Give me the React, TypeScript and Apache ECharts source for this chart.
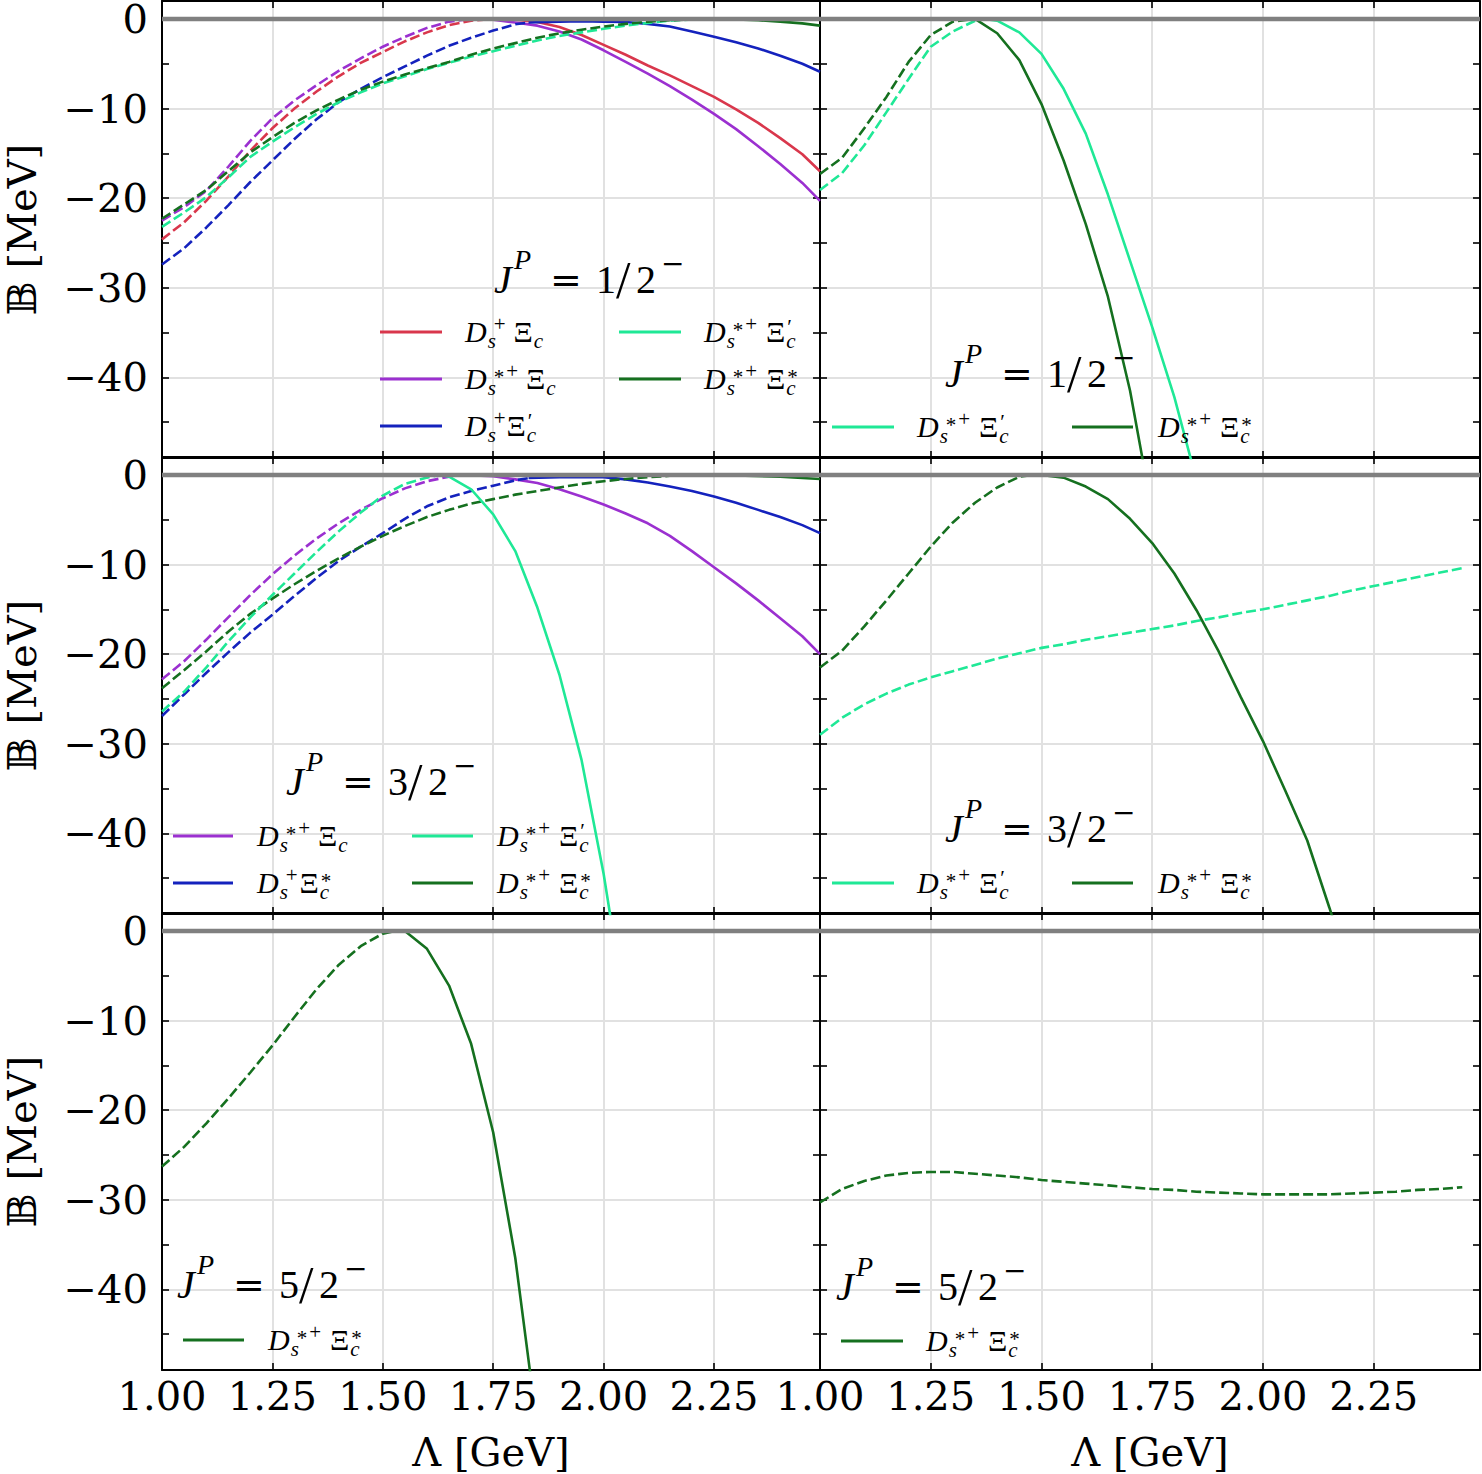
import React, { useEffect, useRef } from 'react';
import * as echarts from 'echarts';

type Pt = [number, number];

// ---------- axis values ----------
const X_MIN = 1.0;
const X_MAX = 2.49;
const X_STEP = 0.25;
const Y_MIN = -49;
const Y_MAX = 2;
const Y_LABEL_VALUES = [0, -10, -20, -30, -40];
const Y_TICK_VALUES = [0, -5, -10, -15, -20, -25, -30, -35, -40, -45];
const Y_GRID_VALUES = [-10, -20, -30, -40];
const ZERO_LINE: Pt[] = [[X_MIN, 0], [X_MAX, 0]];

// ---------- top-left : J^P = 1/2^- ----------
const tlRedDash: Pt[] = [[1.0,-24.6],[1.05,-22.7],[1.1,-20.3],[1.15,-17.6],[1.2,-14.7],[1.25,-12.2],[1.3,-10.0],[1.35,-8.1],[1.4,-6.4],[1.45,-4.9],[1.5,-3.7],[1.55,-2.5],[1.6,-1.5],[1.65,-0.7],[1.7,-0.2],[1.75,0]];
const tlRedSolid: Pt[] = [[1.75,0],[1.8,-0.1],[1.85,-0.35],[1.9,-0.9],[1.95,-1.8],[2.0,-2.9],[2.05,-4.0],[2.1,-5.2],[2.15,-6.3],[2.2,-7.5],[2.25,-8.7],[2.3,-10.1],[2.35,-11.6],[2.4,-13.3],[2.45,-15.1],[2.49,-17.0]];
const tlPurpleDash: Pt[] = [[1.0,-22.5],[1.05,-21.0],[1.1,-19.2],[1.15,-16.5],[1.2,-13.6],[1.25,-11.1],[1.3,-9.1],[1.35,-7.4],[1.4,-5.8],[1.45,-4.4],[1.5,-3.1],[1.55,-2.0],[1.6,-1.0],[1.65,-0.3],[1.7,0]];
const tlPurpleSolid: Pt[] = [[1.7,0],[1.75,-0.1],[1.8,-0.4],[1.85,-0.75],[1.9,-1.4],[1.95,-2.3],[2.0,-3.5],[2.05,-4.8],[2.1,-6.1],[2.15,-7.5],[2.2,-9.0],[2.25,-10.6],[2.3,-12.3],[2.35,-14.2],[2.4,-16.2],[2.45,-18.3],[2.49,-20.3]];
const tlBlueDash: Pt[] = [[1.0,-27.4],[1.05,-25.6],[1.1,-23.3],[1.15,-20.8],[1.2,-18.2],[1.25,-15.8],[1.3,-13.4],[1.35,-11.2],[1.4,-9.3],[1.45,-7.8],[1.5,-6.5],[1.55,-5.3],[1.6,-4.1],[1.65,-3.0],[1.7,-2.1],[1.75,-1.3],[1.8,-0.6],[1.83,-0.4]];
const tlBlueSolid: Pt[] = [[1.83,-0.4],[1.9,-0.3],[1.95,-0.25],[2.0,-0.3],[2.05,-0.35],[2.1,-0.55],[2.15,-0.85],[2.2,-1.4],[2.25,-2.0],[2.3,-2.6],[2.35,-3.3],[2.4,-4.1],[2.45,-5.0],[2.49,-5.9]];
const tlCyanDash: Pt[] = [[1.0,-23.2],[1.05,-21.6],[1.1,-19.9],[1.15,-17.7],[1.2,-15.4],[1.25,-13.7],[1.3,-12.1],[1.35,-10.6],[1.4,-9.3],[1.45,-8.2],[1.5,-7.2],[1.55,-6.4],[1.6,-5.6],[1.65,-4.9],[1.7,-4.2],[1.75,-3.6],[1.8,-3.0],[1.85,-2.4],[1.9,-1.9],[1.95,-1.5],[2.0,-1.1],[2.05,-0.75],[2.1,-0.45],[2.15,-0.2],[2.2,-0.05],[2.25,0]];
const tlCyanSolid: Pt[] = [[2.25,0],[2.49,0]];
const tlGreenDash: Pt[] = [[1.0,-22.3],[1.05,-20.7],[1.1,-19.1],[1.15,-17.0],[1.2,-14.9],[1.25,-13.2],[1.3,-11.6],[1.35,-10.2],[1.4,-9.0],[1.45,-7.9],[1.5,-7.0],[1.55,-6.2],[1.6,-5.5],[1.65,-4.8],[1.7,-4.0],[1.75,-3.3],[1.8,-2.7],[1.85,-2.1],[1.9,-1.6],[1.95,-1.2],[2.0,-0.85],[2.05,-0.55],[2.1,-0.3],[2.15,-0.15],[2.2,-0.05],[2.25,0]];
const tlGreenSolid: Pt[] = [[2.25,0],[2.3,-0.05],[2.35,-0.15],[2.4,-0.3],[2.45,-0.5],[2.49,-0.75]];

// ---------- top-right : J^P = 1/2^- ----------
const trCyanDash: Pt[] = [[1.0,-19.1],[1.05,-17.2],[1.1,-14.1],[1.15,-10.4],[1.2,-6.7],[1.25,-3.1],[1.3,-1.4],[1.35,-0.2],[1.37,0]];
const trCyanSolid: Pt[] = [[1.37,0],[1.4,-0.2],[1.45,-1.5],[1.5,-3.9],[1.55,-7.8],[1.6,-12.8],[1.65,-19.6],[1.7,-27.0],[1.75,-34.4],[1.8,-42.2],[1.85,-51.5]];
const trGreenDash: Pt[] = [[1.0,-17.3],[1.05,-15.5],[1.1,-12.2],[1.15,-8.7],[1.2,-4.8],[1.25,-1.8],[1.3,-0.3],[1.35,0]];
const trGreenSolid: Pt[] = [[1.35,0],[1.4,-1.6],[1.45,-4.6],[1.5,-9.5],[1.55,-15.8],[1.6,-22.9],[1.65,-31.0],[1.7,-41.5],[1.75,-55.0]];

// ---------- middle-left : J^P = 3/2^- ----------
const mlPurpleDash: Pt[] = [[1.0,-22.8],[1.05,-20.8],[1.1,-18.4],[1.15,-15.9],[1.2,-13.4],[1.25,-11.1],[1.3,-9.0],[1.35,-7.1],[1.4,-5.4],[1.45,-3.9],[1.5,-2.6],[1.55,-1.5],[1.6,-0.7],[1.65,-0.2],[1.68,0]];
const mlPurpleSolid: Pt[] = [[1.68,0],[1.75,-0.15],[1.8,-0.5],[1.85,-0.9],[1.9,-1.6],[1.95,-2.4],[2.0,-3.3],[2.05,-4.3],[2.1,-5.4],[2.15,-6.8],[2.2,-8.5],[2.25,-10.3],[2.3,-12.1],[2.35,-14.0],[2.4,-16.0],[2.45,-18.0],[2.49,-20.0]];
const mlBlueDash: Pt[] = [[1.0,-26.9],[1.05,-24.5],[1.1,-22.1],[1.15,-19.8],[1.2,-17.6],[1.25,-15.6],[1.3,-13.5],[1.35,-11.5],[1.4,-9.6],[1.45,-8.0],[1.5,-6.5],[1.55,-4.9],[1.6,-3.5],[1.65,-2.5],[1.7,-1.8],[1.75,-1.2],[1.8,-0.6],[1.83,-0.35]];
const mlBlueSolid: Pt[] = [[1.83,-0.35],[1.9,-0.25],[2.0,-0.25],[2.05,-0.5],[2.1,-0.85],[2.15,-1.3],[2.2,-1.8],[2.25,-2.4],[2.3,-3.1],[2.35,-3.9],[2.4,-4.7],[2.45,-5.6],[2.49,-6.5]];
const mlCyanDash: Pt[] = [[1.0,-26.4],[1.05,-24.2],[1.1,-21.5],[1.15,-18.6],[1.2,-15.9],[1.25,-13.4],[1.3,-11.0],[1.35,-8.6],[1.4,-6.3],[1.45,-4.2],[1.5,-2.3],[1.55,-1.0],[1.6,-0.3],[1.63,0]];
const mlCyanSolid: Pt[] = [[1.63,0],[1.65,-0.2],[1.7,-1.6],[1.75,-4.4],[1.8,-8.5],[1.85,-14.8],[1.9,-22.3],[1.95,-31.8],[2.0,-44.5],[2.05,-60.0]];
const mlGreenDash: Pt[] = [[1.0,-23.8],[1.05,-21.8],[1.1,-19.7],[1.15,-17.5],[1.2,-15.5],[1.25,-13.8],[1.3,-12.2],[1.35,-10.7],[1.4,-9.3],[1.45,-8.0],[1.5,-6.8],[1.55,-5.7],[1.6,-4.7],[1.65,-3.9],[1.7,-3.2],[1.75,-2.7],[1.8,-2.2],[1.85,-1.8],[1.9,-1.4],[1.95,-1.0],[2.0,-0.7],[2.05,-0.45],[2.1,-0.25],[2.15,-0.1],[2.2,0]];
const mlGreenSolid: Pt[] = [[2.2,0],[2.3,-0.05],[2.4,-0.2],[2.49,-0.45]];

// ---------- middle-right : J^P = 3/2^- ----------
const mrCyanDash: Pt[] = [[1.0,-29.0],[1.05,-27.1],[1.1,-25.6],[1.15,-24.4],[1.2,-23.4],[1.25,-22.6],[1.3,-21.9],[1.35,-21.2],[1.4,-20.5],[1.45,-19.9],[1.5,-19.3],[1.55,-18.9],[1.6,-18.4],[1.65,-18.0],[1.7,-17.6],[1.75,-17.2],[1.8,-16.8],[1.85,-16.3],[1.9,-15.9],[1.95,-15.4],[2.0,-15.0],[2.05,-14.5],[2.1,-14.0],[2.15,-13.5],[2.2,-12.9],[2.25,-12.4],[2.3,-11.9],[2.35,-11.4],[2.4,-10.9],[2.45,-10.4]];
const mrGreenDash: Pt[] = [[1.0,-21.5],[1.05,-19.6],[1.1,-16.9],[1.15,-14.0],[1.2,-11.0],[1.25,-8.0],[1.3,-5.3],[1.35,-3.1],[1.4,-1.4],[1.45,-0.2],[1.48,0]];
const mrGreenSolid: Pt[] = [[1.48,0],[1.5,0],[1.55,-0.3],[1.6,-1.3],[1.65,-2.7],[1.7,-4.9],[1.75,-7.6],[1.8,-11.0],[1.85,-15.1],[1.9,-19.7],[1.95,-24.8],[2.0,-29.7],[2.05,-35.2],[2.1,-40.8],[2.15,-48.3],[2.2,-56.0]];

// ---------- bottom-left : J^P = 5/2^- ----------
const blGreenDash: Pt[] = [[1.0,-26.3],[1.05,-24.1],[1.1,-21.5],[1.15,-18.7],[1.2,-15.8],[1.25,-12.8],[1.3,-9.6],[1.35,-6.5],[1.4,-3.8],[1.45,-1.7],[1.5,-0.3],[1.53,0]];
const blGreenSolid: Pt[] = [[1.53,0],[1.55,0],[1.6,-2.0],[1.65,-6.1],[1.7,-12.6],[1.75,-22.5],[1.8,-36.5],[1.85,-55.5]];

// ---------- bottom-right : J^P = 5/2^- ----------
const brGreenDash: Pt[] = [[1.0,-30.3],[1.05,-28.8],[1.1,-27.9],[1.15,-27.3],[1.2,-27.0],[1.25,-26.9],[1.3,-26.9],[1.35,-27.1],[1.4,-27.3],[1.45,-27.5],[1.5,-27.8],[1.55,-28.0],[1.6,-28.2],[1.65,-28.4],[1.7,-28.6],[1.75,-28.8],[1.8,-28.9],[1.85,-29.1],[1.9,-29.2],[1.95,-29.3],[2.0,-29.4],[2.05,-29.4],[2.1,-29.4],[2.15,-29.4],[2.2,-29.3],[2.25,-29.2],[2.3,-29.1],[2.35,-28.9],[2.4,-28.8],[2.45,-28.6]];

// ---------- styles ----------
const RED = '#d9374c';
const PURPLE = '#9b30d0';
const BLUE = '#1422bd';
const CYAN = '#1fe896';
const GREEN = '#15701f';
const ZERO_COLOR = '#808080';
const GRID_COLOR = '#e1e1e1';
const W = 1482;
const H = 1474;
const TICK_FONT = 'DejaVu Serif, DejaVu Sans, serif';
const MATH_FONT = 'Liberation Serif, DejaVu Serif, serif';

type Piece = { data: Pt[]; color: string; dashed: boolean };
const P = (data: Pt[], color: string, dashed: boolean): Piece => ({ data, color, dashed });

const PANEL_SERIES: Piece[][] = [
  [P(tlRedDash, RED, true), P(tlRedSolid, RED, false), P(tlPurpleDash, PURPLE, true), P(tlPurpleSolid, PURPLE, false),
   P(tlBlueDash, BLUE, true), P(tlBlueSolid, BLUE, false), P(tlCyanDash, CYAN, true), P(tlCyanSolid, CYAN, false),
   P(tlGreenDash, GREEN, true), P(tlGreenSolid, GREEN, false)],
  [P(trCyanDash, CYAN, true), P(trCyanSolid, CYAN, false), P(trGreenDash, GREEN, true), P(trGreenSolid, GREEN, false)],
  [P(mlPurpleDash, PURPLE, true), P(mlPurpleSolid, PURPLE, false), P(mlBlueDash, BLUE, true), P(mlBlueSolid, BLUE, false),
   P(mlGreenDash, GREEN, true), P(mlGreenSolid, GREEN, false), P(mlCyanDash, CYAN, true), P(mlCyanSolid, CYAN, false)],
  [P(mrCyanDash, CYAN, true), P(mrGreenDash, GREEN, true), P(mrGreenSolid, GREEN, false)],
  [P(blGreenDash, GREEN, true), P(blGreenSolid, GREEN, false)],
  [P(brGreenDash, GREEN, true)],
];

const GRIDS = [
  { left: 162, top: 1, width: 658 }, { left: 820, top: 1, width: 660 },
  { left: 162, top: 457, width: 658 }, { left: 820, top: 457, width: 660 },
  { left: 162, top: 913, width: 658 }, { left: 820, top: 913, width: 660 },
];
const GRID_H = 457;

// legend labels: first superscript, superscript on Xi, gap before Xi
type Lab = { s1: string; s2: string; gap: number };
const L_DsXi: Lab = { s1: '+', s2: '', gap: 8 };
const L_DssXi: Lab = { s1: '*+', s2: '', gap: 8 };
const L_DsXip: Lab = { s1: '+', s2: "'", gap: 1 };
const L_DssXip: Lab = { s1: '*+', s2: "'", gap: 9 };
const L_DssXis: Lab = { s1: '*+', s2: '*', gap: 9 };
const L_DsXis: Lab = { s1: '+', s2: '*', gap: 2 };

type LegendItem = { x1: number; x2: number; y: number; tx: number; color: string; lab: Lab };
const LEGENDS: LegendItem[] = [
  { x1: 380, x2: 442, y: 332, tx: 465, color: RED, lab: L_DsXi },
  { x1: 380, x2: 442, y: 379, tx: 465, color: PURPLE, lab: L_DssXi },
  { x1: 380, x2: 442, y: 426, tx: 465, color: BLUE, lab: L_DsXip },
  { x1: 619, x2: 681, y: 332, tx: 704, color: CYAN, lab: L_DssXip },
  { x1: 619, x2: 681, y: 379, tx: 704, color: GREEN, lab: L_DssXis },
  { x1: 832, x2: 894, y: 427, tx: 917, color: CYAN, lab: L_DssXip },
  { x1: 1072, x2: 1133, y: 427, tx: 1158, color: GREEN, lab: L_DssXis },
  { x1: 173, x2: 233, y: 836, tx: 257, color: PURPLE, lab: L_DssXi },
  { x1: 173, x2: 233, y: 883, tx: 257, color: BLUE, lab: L_DsXis },
  { x1: 412, x2: 473, y: 836, tx: 497, color: CYAN, lab: L_DssXip },
  { x1: 412, x2: 473, y: 883, tx: 497, color: GREEN, lab: L_DssXis },
  { x1: 832, x2: 894, y: 883, tx: 917, color: CYAN, lab: L_DssXip },
  { x1: 1072, x2: 1133, y: 883, tx: 1158, color: GREEN, lab: L_DssXis },
  { x1: 183, x2: 244, y: 1340, tx: 268, color: GREEN, lab: L_DssXis },
  { x1: 841, x2: 903, y: 1341, tx: 926, color: GREEN, lab: L_DssXis },
];

const TITLES = [
  { x: 494, b: 293, num: '1' }, { x: 945, b: 387, num: '1' },
  { x: 286, b: 795, num: '3' }, { x: 945, b: 842, num: '3' },
  { x: 177, b: 1298, num: '5' }, { x: 836, b: 1300, num: '5' },
];

// ---------- text helpers ----------
let measureCtx: CanvasRenderingContext2D | null = null;
function tw(text: string, size: number, italic: boolean, family = MATH_FONT) {
  if (!measureCtx) measureCtx = document.createElement('canvas').getContext('2d');
  if (!measureCtx) return size * 0.5 * text.length;
  measureCtx.font = `${italic ? 'italic ' : ''}${size}px ${family}`;
  return measureCtx.measureText(text).width;
}
function txt(text: string, x: number, baseline: number, size: number, italic: boolean, family = MATH_FONT) {
  return {
    type: 'text', x, y: baseline - size * 0.34, z: 100, silent: true,
    style: {
      text, fill: '#000',
      fontSize: size, fontFamily: family, fontStyle: italic ? 'italic' : 'normal', fontWeight: 'normal',
      align: 'left', verticalAlign: 'middle', textAlign: 'left', textVerticalAlign: 'middle',
    },
  };
}

function mathLabel(x0: number, b: number, lab: Lab): any[] {
  const F = 30, f = 21;
  const els: any[] = [];
  const wD = tw('D', F, true);
  els.push(txt('D', x0, b, F, true));
  const subX = x0 + wD + 1;
  els.push(txt('s', subX, b + 6, f, true));
  const subEnd = subX + tw('s', f, true);
  let supX = x0 + wD + 7;
  for (const ch of lab.s1) {
    if (ch === '*') {
      els.push(txt('*', supX, b - 5, f, false));
      supX += tw('*', f, false) + 2;
    } else {
      els.push(txt('+', supX, b - 11, f, false));
      supX += tw('+', f, false);
    }
  }
  const xiX = Math.max(subEnd, supX) + lab.gap;
  els.push(txt('Ξ', xiX, b, F, false));
  const xiEnd = xiX + tw('Ξ', F, false);
  els.push(txt('c', xiEnd + 1, b + 6, f, true));
  if (lab.s2 === '*') els.push(txt('*', xiEnd + 2, b - 5, f, false));
  if (lab.s2 === "'") els.push(txt('\u2032', xiEnd + 2, b - 8, f, false));
  return els;
}

function titleLabel(x0: number, b: number, num: string): any[] {
  return [
    txt('J', x0, b, 40, true),
    txt('P', x0 + 20, b - 24, 28, true),
    txt('=', x0 + 56, b, 38, false, TICK_FONT),
    txt(num, x0 + 102, b, 40, false),
    txt('/', x0 + 122, b + 5, 52, false),
    txt('2', x0 + 142, b, 40, false),
    txt('\u2212', x0 + 167, b - 20, 28, false, TICK_FONT),
  ];
}

function fmtY(v: number) {
  return v === 0 ? '0' : (v < 0 ? '\u2212' : '') + String(Math.abs(v));
}

function buildOption(): any {
  const axisLine = { show: true, onZero: false, lineStyle: { color: '#000', width: 2 } };
  const tickStyle = { color: '#000', width: 1.6 };
  const grid: any[] = [];
  const xAxis: any[] = [];
  const yAxis: any[] = [];
  const series: any[] = [];

  GRIDS.forEach((g, i) => {
    const leftCol = i % 2 === 0;
    const bottomRow = i >= 4;
    grid.push({ left: g.left, top: g.top, width: g.width, height: GRID_H, containLabel: false, outerBoundsMode: 'none' });

    xAxis.push({
      type: 'value', gridIndex: i, position: 'bottom', min: X_MIN, max: X_MAX, interval: X_STEP,
      axisLine, axisTick: { show: true, inside: true, length: 7, lineStyle: tickStyle },
      axisLabel: {
        show: bottomRow, showMaxLabel: false, showMinLabel: true, margin: 6,
        formatter: (v: number) => v.toFixed(2), fontSize: 40, fontFamily: TICK_FONT, color: '#000',
      },
      splitLine: { show: true, lineStyle: { color: GRID_COLOR, width: 2 } },
      name: bottomRow ? 'Λ [GeV]' : '', nameLocation: 'middle', nameGap: 62,
      nameTextStyle: { fontSize: 40, fontFamily: TICK_FONT, color: '#000' },
    });
    xAxis.push({
      type: 'value', gridIndex: i, position: 'top', min: X_MIN, max: X_MAX, interval: X_STEP,
      axisLine, axisTick: { show: true, inside: true, length: 7, lineStyle: tickStyle },
      axisLabel: { show: false }, splitLine: { show: false },
    });

    yAxis.push({
      type: 'value', gridIndex: i, position: 'left', min: Y_MIN, max: Y_MAX,
      axisLine, axisTick: { show: true, inside: true, length: 7, lineStyle: tickStyle, customValues: Y_TICK_VALUES },
      axisLabel: {
        show: leftCol, customValues: Y_LABEL_VALUES, formatter: fmtY, margin: 14,
        fontSize: 40, fontFamily: TICK_FONT, color: '#000',
      },
      splitLine: { show: false },
      name: leftCol ? '𝔹 [MeV]' : '', nameLocation: 'middle', nameGap: 120, nameRotate: 90,
      nameTextStyle: { fontSize: 40, fontFamily: TICK_FONT, color: '#000' },
    });
    yAxis.push({
      type: 'value', gridIndex: i, position: 'right', min: Y_MIN, max: Y_MAX,
      axisLine, axisTick: { show: true, inside: true, length: 7, lineStyle: tickStyle, customValues: Y_TICK_VALUES },
      axisLabel: { show: false }, splitLine: { show: false },
    });
    yAxis.push({
      type: 'value', gridIndex: i, position: 'left', min: Y_MIN, max: Y_MAX,
      axisLine: { show: false, onZero: false },
      axisTick: { show: false, customValues: Y_GRID_VALUES },
      axisLabel: { show: false },
      splitLine: { show: true, lineStyle: { color: GRID_COLOR, width: 2 } },
    });

    PANEL_SERIES[i].forEach((p) => {
      series.push({
        type: 'line', xAxisIndex: 2 * i, yAxisIndex: 3 * i, data: p.data,
        symbol: 'none', showSymbol: false, silent: true, clip: true, z: 2, smooth: false,
        lineStyle: { color: p.color, width: 2.6, type: p.dashed ? [10, 4] : 'solid' },
      });
    });
    series.push({
      type: 'line', xAxisIndex: 2 * i, yAxisIndex: 3 * i, data: ZERO_LINE,
      symbol: 'none', showSymbol: false, silent: true, z: 5,
      lineStyle: { color: ZERO_COLOR, width: 4.5 },
    });
  });

  const graphics: any[] = [];
  TITLES.forEach((t) => graphics.push(...titleLabel(t.x, t.b, t.num)));
  LEGENDS.forEach((l) => {
    graphics.push({
      type: 'line', z: 100, silent: true,
      shape: { x1: l.x1, y1: l.y, x2: l.x2, y2: l.y },
      style: { stroke: l.color, lineWidth: 3 },
    });
    graphics.push(...mathLabel(l.tx, l.y + 10, l.lab));
  });

  return {
    animation: false,
    backgroundColor: '#ffffff',
    grid, xAxis, yAxis, series,
    graphic: { elements: graphics },
  };
}

export default function App() {
  const ref = useRef<HTMLDivElement>(null);
  useEffect(() => {
    if (!ref.current) return;
    const chart = echarts.init(ref.current, undefined, { renderer: 'svg', width: W, height: H });
    chart.setOption(buildOption());
    return () => chart.dispose();
  }, []);
  return (
    <div
      ref={ref}
      style={{ position: 'absolute', left: 0, top: 0, width: W, height: H, background: '#fff' }}
    />
  );
}
